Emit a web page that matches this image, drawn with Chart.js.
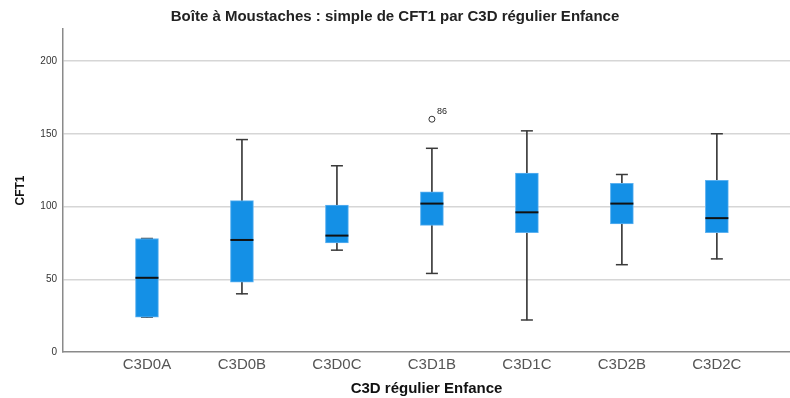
<!DOCTYPE html>
<html>
<head>
<meta charset="utf-8">
<script src="https://cdn.jsdelivr.net/npm/chart.js@4/dist/chart.umd.min.js"></script>
<style>
  body { margin: 0; background: #fff; }
  #wrap { width: 790px; height: 398px; }
</style>
</head>
<body>
<div id="wrap"><canvas id="boxChart" width="790" height="398"></canvas></div>
<script>
const categories = ['C3D0A', 'C3D0B', 'C3D0C', 'C3D1B', 'C3D1C', 'C3D2B', 'C3D2C'];
const mins    = [24, 40, 70, 54, 22, 60, 64];
const q1s     = [24, 48, 75, 87, 82, 88, 82];
const medians = [51, 77, 80, 102, 96, 102, 92];
const q3s     = [78, 104, 101, 110, 123, 116, 118];
const maxs    = [78, 146, 128, 140, 152, 122, 150];

const outlierCats   = [3];
const outlierValues = [160];
const outlierLabels = ['86'];

const yTicks = [0, 50, 100, 150, 200];

const BOX_BLUE = '#1490e6';
const WHISKER = '#3a3a3a';

// labels next to outlier circles, like SPSS case numbers
const outlierLabelPlugin = {
  id: 'outlierLabels',
  afterDatasetsDraw(chart) {
    const idx = chart.data.datasets.findIndex(d => d.label === 'outliers');
    const meta = chart.getDatasetMeta(idx);
    const ctx = chart.ctx;
    ctx.save();
    ctx.font = '9px Arial';
    ctx.fillStyle = '#222';
    ctx.textAlign = 'left';
    ctx.textBaseline = 'middle';
    meta.data.forEach((pt, i) => {
      ctx.fillText(outlierLabels[i], pt.x + 5, pt.y - 8);
    });
    ctx.restore();
  }
};

function pts(values) {
  return values.map((v, i) => ({ x: i, y: v }));
}

const ctx = document.getElementById('boxChart').getContext('2d');
new Chart(ctx, {
  data: {
    datasets: [
      {
        type: 'bar',
        label: 'lower whisker',
        data: mins.map((v, i) => ({ x: i, y: [v, q1s[i]] })),
        backgroundColor: WHISKER,
        barThickness: 1,
        grouped: false,
        order: 4
      },
      {
        type: 'bar',
        label: 'upper whisker',
        data: maxs.map((v, i) => ({ x: i, y: [q3s[i], v] })),
        backgroundColor: WHISKER,
        barThickness: 1,
        grouped: false,
        order: 4
      },
      {
        type: 'scatter',
        label: 'caps',
        data: pts(mins).concat(pts(maxs)),
        pointStyle: 'line',
        radius: 6,
        borderWidth: 1.5,
        borderColor: WHISKER,
        order: 3
      },
      {
        type: 'bar',
        label: 'box',
        data: q1s.map((v, i) => ({ x: i, y: [v, q3s[i]] })),
        backgroundColor: BOX_BLUE,
        borderColor: '#5cb1f0',
        borderWidth: 1,
        borderSkipped: false,
        barThickness: 23,
        grouped: false,
        order: 2
      },
      {
        type: 'scatter',
        label: 'median',
        data: pts(medians),
        pointStyle: 'line',
        radius: 11.5,
        borderWidth: 2,
        borderColor: '#111',
        order: 1
      },
      {
        type: 'scatter',
        label: 'outliers',
        data: outlierCats.map((c, i) => ({ x: c, y: outlierValues[i] })),
        pointStyle: 'circle',
        radius: 3,
        borderWidth: 1,
        borderColor: '#333',
        backgroundColor: '#fff',
        order: 0
      }
    ]
  },
  options: {
    responsive: false,
    animation: false,
    layout: { padding: 0, autoPadding: false },
    plugins: {
      legend: { display: false },
      tooltip: { enabled: false },
      title: {
        display: true,
        text: 'Boîte à Moustaches : simple de CFT1 par C3D régulier Enfance',
        color: '#222',
        font: { family: 'Arial', size: 15, weight: 'bold', lineHeight: 1.2 },
        padding: { top: 8, bottom: 3 }
      }
    },
    scales: {
      x: {
        type: 'linear',
        offset: false,
        min: -0.884,
        max: 6.77,
        afterBuildTicks: scale => {
          scale.ticks = categories.map((c, i) => ({ value: i }));
        },
        afterFit: scale => {
          scale.height = 46;
          scale.paddingLeft = 0;
          scale.paddingRight = 0;
        },
        ticks: {
          callback: v => categories[v],
          color: '#555',
          font: { family: 'Arial', size: 15 },
          padding: 4,
          maxRotation: 0,
          autoSkip: false
        },
        grid: { display: false, drawTicks: false, offset: false },
        border: { color: '#8a8a8a', width: 1.5 },
        title: {
          display: true,
          text: 'C3D régulier Enfance',
          color: '#111',
          font: { family: 'Arial', size: 15, weight: 'bold' },
          padding: { top: 0, bottom: 0 }
        }
      },
      y: {
        min: 0,
        max: 222,
        afterBuildTicks: scale => {
          scale.ticks = yTicks.map(v => ({ value: v }));
        },
        afterFit: scale => { scale.width = 63; },
        ticks: {
          color: '#333',
          font: { family: 'Arial', size: 10 },
          padding: 6
        },
        grid: {
          drawTicks: false,
          color: ctx => ctx.tick && ctx.tick.value === 0 ? 'rgba(0,0,0,0)' : '#d6d6d6',
          lineWidth: 1.5
        },
        border: { color: '#8a8a8a', width: 1.5 },
        title: {
          display: true,
          text: 'CFT1',
          color: '#111',
          font: { family: 'Arial', size: 12, weight: 'bold' },
          padding: { top: 13, bottom: 0 }
        }
      }
    }
  },
  plugins: [outlierLabelPlugin]
});
</script>
</body>
</html>
